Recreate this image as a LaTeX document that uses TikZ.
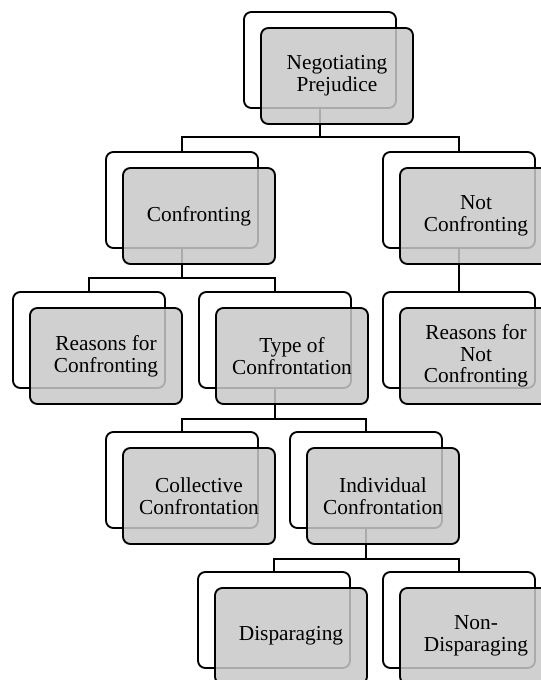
\documentclass[tikz,border=0pt]{standalone}
\usepackage{fontspec}
\setmainfont{Liberation Serif}
\usetikzlibrary{calc}
\definecolor{boxfill}{gray}{0.784}
\begin{document}
\begin{tikzpicture}[x=0.75pt,y=-0.75pt,
  backbox/.style={draw=black,line width=1.4pt,rounded corners=5.5pt,
    minimum width=114pt,minimum height=72pt,inner sep=0pt,outer sep=0pt},
  frontbox/.style={backbox,fill=boxfill,fill opacity=0.85,text opacity=1,
    align=center,font=\fontsize{16}{16.2}\selectfont},
  link/.style={draw=black,line width=1.4pt}]
\useasboundingbox (0,0) rectangle (541,680);
\clip (0,0) rectangle (541,680);
% back boxes
\node[backbox] (rootb) at (320,60) {};
\node[backbox] (confb) at (182,200) {};
\node[backbox] (notcb) at (459,200) {};
\node[backbox] (reasb) at (89,340) {};
\node[backbox] (typeb) at (275,340) {};
\node[backbox] (rncb)  at (459,340) {};
\node[backbox] (collb) at (182,480) {};
\node[backbox] (indib) at (366,480) {};
\node[backbox] (dispb) at (274,620) {};
\node[backbox] (nondb) at (459,620) {};
% connectors
\path[link] (rootb.south) |- ($(rootb.south)+(0,29)$) -| (confb.north);
\path[link] (rootb.south) |- ($(rootb.south)+(0,29)$) -| (notcb.north);
\path[link] (confb.south) |- ($(confb.south)+(0,30)$) -| (reasb.north);
\path[link] (confb.south) |- ($(confb.south)+(0,30)$) -| (typeb.north);
\path[link] (notcb.south) -- (rncb.north);
\path[link] (typeb.south) |- ($(typeb.south)+(0,31)$) -| (collb.north);
\path[link] (typeb.south) |- ($(typeb.south)+(0,31)$) -| (indib.north);
\path[link] (indib.south) |- ($(indib.south)+(0,31)$) -| (dispb.north);
\path[link] (indib.south) |- ($(indib.south)+(0,31)$) -| (nondb.north);
% front boxes
\node[frontbox] (root) at ($(rootb.center)+(17,16)$) {Negotiating\\Prejudice};
\node[frontbox] (conf) at ($(confb.center)+(17,16)$) {Confronting};
\node[frontbox] (notc) at ($(notcb.center)+(17,16)$) {Not\\Confronting};
\node[frontbox] (reas) at ($(reasb.center)+(17,16)$) {Reasons for\\Confronting};
\node[frontbox] (type) at ($(typeb.center)+(17,16)$) {Type of\\Confrontation};
\node[frontbox] (rnc)  at ($(rncb.center)+(17,16)$) {Reasons for\\Not\\Confronting};
\node[frontbox] (coll) at ($(collb.center)+(17,16)$) {Collective\\Confrontation};
\node[frontbox] (indi) at ($(indib.center)+(17,16)$) {Individual\\Confrontation};
\node[frontbox] (disp) at ($(dispb.center)+(17,16)$) {Disparaging};
\node[frontbox] (nond) at ($(nondb.center)+(17,16)$) {Non-\\Disparaging};
\end{tikzpicture}
\end{document}
